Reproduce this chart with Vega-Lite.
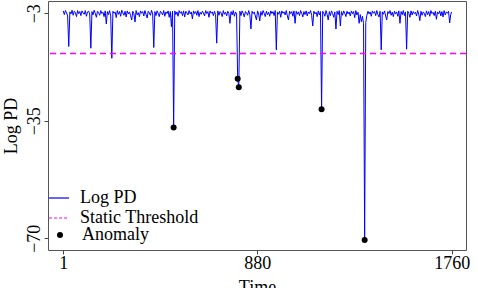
{
  "$schema": "https://vega.github.io/schema/vega-lite/v6.json",
  "width": 418,
  "height": 249,
  "autosize": {"type": "none"},
  "padding": {"left": 48, "top": 1, "right": 12, "bottom": 38},
  "background": "white",
  "config": {
    "font": "Liberation Serif, serif",
    "view": {"stroke": "#555", "strokeWidth": 1},
    "legend": {"labelFont": "Liberation Serif, serif", "labelFontSize": 18, "labelColor": "black", "title": null, "orient": "none", "padding": 0},
    "axis": {
      "domain": false,
      "grid": false,
      "tickSize": 4,
      "tickColor": "#444",
      "labelFont": "Liberation Serif, serif",
      "labelFontSize": 18,
      "labelColor": "black",
      "titleFont": "Liberation Serif, serif",
      "titleFontSize": 18,
      "titleFontWeight": "normal",
      "titleColor": "black"
    }
  },
  "datasets": {
    "pd": [
      {"t":1,"v":-2.3},{"t":6,"v":-3.4},{"t":11,"v":-2.2},{"t":16,"v":-2.9},{"t":21,"v":-3.8},{"t":26,"v":-12.9},{"t":31,"v":-2.6},{"t":36,"v":-3.2},{"t":41,"v":-2.1},{"t":46,"v":-3.6},
      {"t":51,"v":-2.4},{"t":56,"v":-2.8},{"t":61,"v":-4.0},{"t":66,"v":-2.2},{"t":71,"v":-3.1},{"t":76,"v":-2.5},{"t":81,"v":-3.7},{"t":86,"v":-2.3},{"t":91,"v":-2.9},{"t":96,"v":-3.3},
      {"t":101,"v":-2.2},{"t":106,"v":-3.9},{"t":111,"v":-2.6},{"t":116,"v":-2.4},{"t":121,"v":-3.2},{"t":126,"v":-13.4},{"t":131,"v":-2.5},{"t":136,"v":-3.5},{"t":141,"v":-2.1},{"t":146,"v":-3.0},
      {"t":151,"v":-4.2},{"t":156,"v":-2.4},{"t":161,"v":-2.8},{"t":166,"v":-3.6},{"t":171,"v":-2.2},{"t":176,"v":-3.1},{"t":181,"v":-2.7},{"t":186,"v":-4.0},{"t":191,"v":-2.3},{"t":196,"v":-6.2},
      {"t":201,"v":-2.5},{"t":206,"v":-3.4},{"t":211,"v":-2.2},{"t":216,"v":-3.8},{"t":221,"v":-16.4},{"t":226,"v":-2.4},{"t":231,"v":-3.0},{"t":236,"v":-2.6},{"t":241,"v":-4.3},{"t":246,"v":-2.2},
      {"t":251,"v":-3.3},{"t":256,"v":-2.5},{"t":261,"v":-3.9},{"t":266,"v":-2.1},{"t":271,"v":-2.9},{"t":276,"v":-3.6},{"t":281,"v":-2.4},{"t":286,"v":-4.1},{"t":291,"v":-2.3},{"t":296,"v":-3.2},
      {"t":301,"v":-2.6},{"t":306,"v":-3.7},{"t":311,"v":-5.0},{"t":316,"v":-2.4},{"t":321,"v":-3.1},{"t":326,"v":-5.6},{"t":331,"v":-2.2},{"t":336,"v":-3.5},{"t":341,"v":-2.8},{"t":346,"v":-4.0},
      {"t":351,"v":-2.3},{"t":356,"v":-3.0},{"t":361,"v":-2.5},{"t":366,"v":-3.8},{"t":371,"v":-2.2},{"t":376,"v":-3.3},{"t":381,"v":-4.4},{"t":386,"v":-2.4},{"t":391,"v":-2.9},{"t":396,"v":-3.6},
      {"t":401,"v":-2.1},{"t":406,"v":-3.2},{"t":411,"v":-13.2},{"t":416,"v":-2.5},{"t":421,"v":-3.7},{"t":426,"v":-2.3},{"t":431,"v":-3.0},{"t":436,"v":-4.0},{"t":441,"v":-2.4},{"t":446,"v":-2.8},
      {"t":451,"v":-3.5},{"t":456,"v":-2.2},{"t":461,"v":-3.9},{"t":466,"v":-2.6},{"t":471,"v":-3.1},{"t":476,"v":-2.3},{"t":481,"v":-4.2},{"t":486,"v":-2.5},{"t":491,"v":-7.0},{"t":496,"v":-2.4},
      {"t":501,"v":-37.0},{"t":506,"v":-2.3},{"t":511,"v":-3.4},{"t":516,"v":-2.6},{"t":521,"v":-3.9},{"t":526,"v":-2.2},{"t":531,"v":-3.0},{"t":536,"v":-2.5},{"t":541,"v":-3.7},{"t":546,"v":-2.3},
      {"t":551,"v":-4.1},{"t":556,"v":-2.4},{"t":561,"v":-2.9},{"t":566,"v":-3.5},{"t":571,"v":-2.2},{"t":576,"v":-3.2},{"t":581,"v":-2.6},{"t":586,"v":-4.7},{"t":591,"v":-2.3},{"t":596,"v":-3.1},
      {"t":601,"v":-2.5},{"t":606,"v":-3.6},{"t":611,"v":-2.2},{"t":616,"v":-4.0},{"t":621,"v":-2.7},{"t":626,"v":-3.3},{"t":631,"v":-2.4},{"t":636,"v":-2.9},{"t":641,"v":-3.8},{"t":646,"v":-2.2},
      {"t":651,"v":-3.1},{"t":656,"v":-2.5},{"t":661,"v":-4.2},{"t":666,"v":-2.3},{"t":671,"v":-3.0},{"t":676,"v":-2.6},{"t":681,"v":-3.7},{"t":686,"v":-2.4},{"t":691,"v":-3.4},{"t":696,"v":-11.9},
      {"t":701,"v":-2.3},{"t":706,"v":-3.6},{"t":711,"v":-2.5},{"t":716,"v":-2.9},{"t":721,"v":-4.0},{"t":726,"v":-2.2},{"t":731,"v":-3.3},{"t":736,"v":-2.7},{"t":741,"v":-3.8},{"t":746,"v":-2.4},
      {"t":751,"v":-3.0},{"t":756,"v":-6.0},{"t":761,"v":-2.5},{"t":766,"v":-3.5},{"t":771,"v":-2.2},{"t":776,"v":-3.9},{"t":781,"v":-2.6},{"t":786,"v":-3.2},{"t":791,"v":-22.5},{"t":796,"v":-25.0},
      {"t":801,"v":-2.4},{"t":806,"v":-3.7},{"t":811,"v":-2.3},{"t":816,"v":-3.0},{"t":821,"v":-4.1},{"t":826,"v":-2.5},{"t":831,"v":-2.9},{"t":836,"v":-3.6},{"t":841,"v":-2.2},{"t":846,"v":-3.4},
      {"t":851,"v":-7.7},{"t":856,"v":-2.4},{"t":861,"v":-3.1},{"t":866,"v":-2.6},{"t":871,"v":-3.8},{"t":876,"v":-5.0},{"t":881,"v":-2.3},{"t":886,"v":-3.2},{"t":891,"v":-5.3},{"t":896,"v":-2.5},
      {"t":901,"v":-3.6},{"t":906,"v":-2.2},{"t":911,"v":-3.0},{"t":916,"v":-4.0},{"t":921,"v":-2.4},{"t":926,"v":-3.4},{"t":931,"v":-2.7},{"t":936,"v":-3.9},{"t":941,"v":-2.3},{"t":946,"v":-3.1},
      {"t":951,"v":-2.5},{"t":956,"v":-3.7},{"t":961,"v":-2.2},{"t":966,"v":-13.9},{"t":971,"v":-2.6},{"t":976,"v":-3.3},{"t":981,"v":-2.4},{"t":986,"v":-4.2},{"t":991,"v":-2.3},{"t":996,"v":-3.0},
      {"t":1001,"v":-2.6},{"t":1006,"v":-3.5},{"t":1011,"v":-2.2},{"t":1016,"v":-3.8},{"t":1021,"v":-5.0},{"t":1026,"v":-2.4},{"t":1031,"v":-3.1},{"t":1036,"v":-2.5},{"t":1041,"v":-3.9},{"t":1046,"v":-2.3},
      {"t":1051,"v":-6.0},{"t":1056,"v":-2.4},{"t":1061,"v":-3.3},{"t":1066,"v":-2.6},{"t":1071,"v":-3.7},{"t":1076,"v":-2.2},{"t":1081,"v":-3.0},{"t":1086,"v":-4.1},{"t":1091,"v":-2.5},{"t":1096,"v":-3.4},
      {"t":1101,"v":-2.3},{"t":1106,"v":-3.8},{"t":1111,"v":-2.6},{"t":1116,"v":-3.1},{"t":1121,"v":-2.2},{"t":1126,"v":-3.6},{"t":1131,"v":-6.8},{"t":1136,"v":-2.4},{"t":1141,"v":-3.2},{"t":1146,"v":-2.7},
      {"t":1151,"v":-4.0},{"t":1156,"v":-2.3},{"t":1161,"v":-3.5},{"t":1166,"v":-2.5},{"t":1171,"v":-31.6},{"t":1176,"v":-2.4},{"t":1181,"v":-3.0},{"t":1186,"v":-3.9},{"t":1191,"v":-2.2},{"t":1196,"v":-3.3},
      {"t":1201,"v":-5.0},{"t":1206,"v":-2.5},{"t":1211,"v":-3.7},{"t":1216,"v":-2.3},{"t":1221,"v":-3.1},{"t":1226,"v":-4.2},{"t":1231,"v":-2.6},{"t":1236,"v":-7.7},{"t":1241,"v":-2.4},{"t":1246,"v":-3.4},
      {"t":1251,"v":-2.2},{"t":1256,"v":-6.8},{"t":1261,"v":-2.5},{"t":1266,"v":-3.6},{"t":1271,"v":-2.3},{"t":1276,"v":-3.0},{"t":1281,"v":-4.0},{"t":1286,"v":-2.4},{"t":1291,"v":-3.2},{"t":1296,"v":-2.6},
      {"t":1301,"v":-3.8},{"t":1306,"v":-2.3},{"t":1311,"v":-3.1},{"t":1316,"v":-2.5},{"t":1321,"v":-4.3},{"t":1326,"v":-2.2},{"t":1331,"v":-3.5},{"t":1336,"v":-2.7},{"t":1341,"v":-6.0},{"t":1346,"v":-3.4},
      {"t":1351,"v":-5.5},{"t":1356,"v":-3.9},{"t":1361,"v":-6.0},{"t":1366,"v":-70.5},{"t":1371,"v":-5.8},{"t":1376,"v":-3.6},{"t":1381,"v":-2.4},{"t":1386,"v":-3.2},{"t":1391,"v":-2.6},{"t":1396,"v":-3.9},
      {"t":1401,"v":-2.3},{"t":1406,"v":-3.0},{"t":1411,"v":-2.5},{"t":1416,"v":-3.7},{"t":1421,"v":-2.2},{"t":1426,"v":-3.4},{"t":1431,"v":-4.1},{"t":1436,"v":-2.4},{"t":1441,"v":-13.9},{"t":1446,"v":-2.6},
      {"t":1451,"v":-3.3},{"t":1456,"v":-2.3},{"t":1461,"v":-3.8},{"t":1466,"v":-5.0},{"t":1471,"v":-2.5},{"t":1476,"v":-3.1},{"t":1481,"v":-2.2},{"t":1486,"v":-3.6},{"t":1491,"v":-2.7},{"t":1496,"v":-4.0},
      {"t":1501,"v":-2.4},{"t":1506,"v":-3.2},{"t":1511,"v":-2.6},{"t":1516,"v":-3.9},{"t":1521,"v":-2.3},{"t":1526,"v":-6.0},{"t":1531,"v":-2.5},{"t":1536,"v":-3.4},{"t":1541,"v":-2.2},{"t":1546,"v":-3.7},
      {"t":1551,"v":-2.6},{"t":1556,"v":-13.7},{"t":1561,"v":-2.4},{"t":1566,"v":-3.0},{"t":1571,"v":-4.2},{"t":1576,"v":-2.3},{"t":1581,"v":-3.5},{"t":1586,"v":-2.5},{"t":1591,"v":-3.1},{"t":1596,"v":-2.7},
      {"t":1601,"v":-3.8},{"t":1606,"v":-2.2},{"t":1611,"v":-3.3},{"t":1616,"v":-5.2},{"t":1621,"v":-2.4},{"t":1626,"v":-3.6},{"t":1631,"v":-2.6},{"t":1636,"v":-3.0},{"t":1641,"v":-4.0},{"t":1646,"v":-2.3},
      {"t":1651,"v":-3.4},{"t":1656,"v":-2.5},{"t":1661,"v":-3.9},{"t":1666,"v":-2.2},{"t":1671,"v":-3.1},{"t":1676,"v":-2.7},{"t":1681,"v":-3.7},{"t":1686,"v":-2.4},{"t":1691,"v":-4.8},{"t":1696,"v":-2.6},
      {"t":1701,"v":-3.2},{"t":1706,"v":-2.3},{"t":1711,"v":-3.8},{"t":1716,"v":-2.5},{"t":1721,"v":-4.1},{"t":1726,"v":-2.2},{"t":1731,"v":-3.5},{"t":1736,"v":-2.6},{"t":1741,"v":-3.0},{"t":1746,"v":-2.4},
      {"t":1751,"v":-5.9},{"t":1756,"v":-3.3},{"t":1760,"v":-2.6}
    ],
    "thr": [{"thr": -15.0}],
    "anom": [
      {"t":501,"v":-37.0},{"t":791,"v":-22.5},{"t":796,"v":-25.0},{"t":1171,"v":-31.6},{"t":1366,"v":-70.5}
    ]
  },
  "resolve": {"scale": {"color": "independent"}, "legend": {"color": "independent"}},
  "layer": [
    {
      "data": {"name": "pd"},
      "mark": {"type": "line", "strokeWidth": 1, "clip": true},
      "encoding": {
        "x": {
          "field": "t", "type": "quantitative", "title": "Time",
          "scale": {"domain": [-68, 1825], "nice": false, "zero": false},
          "axis": {"values": [1, 880, 1760], "format": "d", "labelPadding": 0, "titlePadding": 6}
        },
        "y": {
          "field": "v", "type": "quantitative", "title": "Log PD",
          "scale": {"domain": [-73.5, 0.65], "nice": false, "zero": false},
          "axis": {"values": [-3, -35, -70], "labelAngle": -90, "labelAlign": "center", "labelBaseline": "bottom", "labelPadding": 1, "titlePadding": 5}
        },
        "color": {
          "datum": "Log PD", "type": "nominal",
          "scale": {"domain": ["Log PD"], "range": ["#0000ff"]},
          "legend": {
            "legendX": 0, "legendY": 186,
            "symbolType": "stroke", "symbolSize": 400, "symbolStrokeWidth": 1.2, "symbolStrokeColor": "#0000ff",
            "labelOffset": 10
          }
        }
      }
    },
    {
      "data": {"name": "thr"},
      "mark": {"type": "rule", "strokeDash": [6, 4], "strokeWidth": 1.5},
      "encoding": {
        "y": {"field": "thr", "type": "quantitative"},
        "color": {
          "datum": "Static Threshold", "type": "nominal",
          "scale": {"domain": ["Static Threshold"], "range": ["#ff00ff"]},
          "legend": {
            "legendX": 0, "legendY": 206,
            "symbolType": "stroke", "symbolSize": 400, "symbolStrokeWidth": 1.2, "symbolStrokeColor": "#ff00ff", "symbolDash": [3, 2],
            "labelOffset": 10
          }
        }
      }
    },
    {
      "data": {"name": "anom"},
      "mark": {"type": "point", "filled": true, "size": 36, "opacity": 1},
      "encoding": {
        "x": {"field": "t", "type": "quantitative"},
        "y": {"field": "v", "type": "quantitative"},
        "color": {
          "datum": "Anomaly", "type": "nominal",
          "scale": {"domain": ["Anomaly"], "range": ["#000000"]},
          "legend": {
            "legendX": 3, "legendY": 225,
            "symbolType": "circle", "symbolSize": 36, "symbolFillColor": "#000000", "symbolStrokeWidth": 0,
            "labelOffset": 13
          }
        }
      }
    }
  ]
}
